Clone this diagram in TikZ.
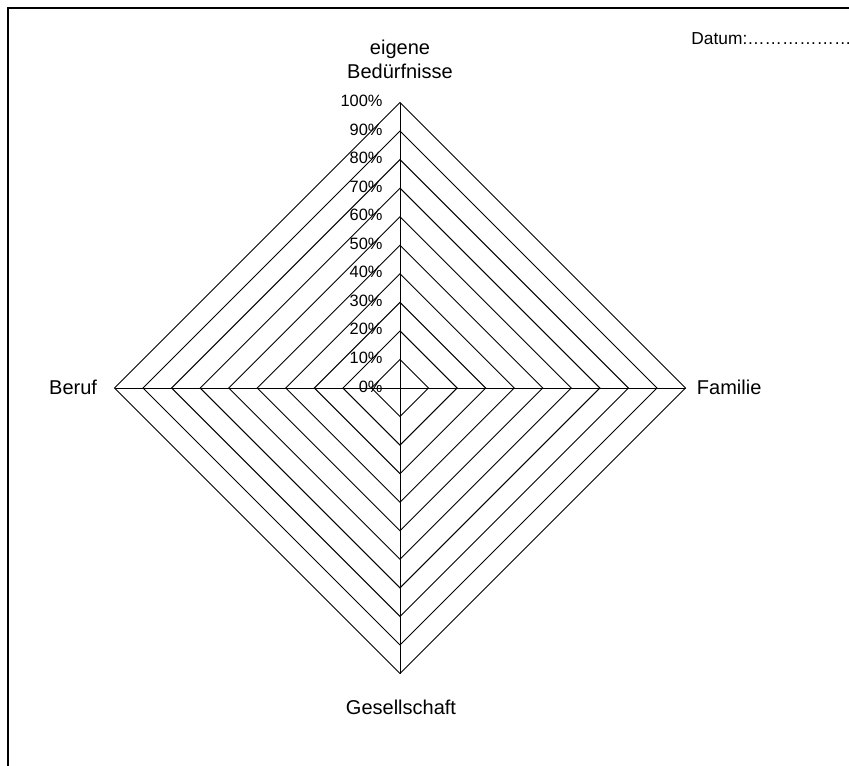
\documentclass[tikz,border=0pt]{standalone}
\usepackage{fontspec}
\setmainfont{Liberation Sans}
\usetikzlibrary{calc}
\begin{document}
\begin{tikzpicture}[x=0.75pt,y=-0.75pt,line width=0.7pt,
  lbl/.style={font=\fontsize{15}{18}\selectfont,inner sep=0pt,anchor=base},
  pct/.style={font=\fontsize{12.3}{14}\selectfont,inner sep=0pt,anchor=base east},
  ring/.style={draw=black,line width=0.7pt}]
\useasboundingbox (0,0) rectangle (849,765);
% frame (only left and top edges visible)
\draw[line width=1.2pt] (8,780) -- (8,8) -- (870,8);
% centre and axis ends
\coordinate (C) at (400,388);
\coordinate (T) at (400,102.5);
\coordinate (B) at (400,673.5);
\coordinate (L) at (114.5,388);
\coordinate (R) at (685.5,388);
% rings
\foreach \i in {1,...,10}{
  \draw[ring] ($(C)+(0,-28.55*\i)$) -- ($(C)+(28.55*\i,0)$) -- ($(C)+(0,28.55*\i)$) -- ($(C)+(-28.55*\i,0)$) -- cycle;
}
% axes
\draw[ring] (T) -- (B);
\draw[ring] (L) -- (R);
% percentage labels
\foreach \i in {0,...,10}{
  \pgfmathtruncatemacro{\p}{10*\i}
  \node[pct] (p\i) at (383,392-28.55*\i) {\p\%};
}
% axis labels
\node[lbl] (top1) at (400,54) {eigene};
\node[lbl] (top2) at (400,78) {Bedürfnisse};
\node[lbl,anchor=base east] (beruf) at (97.5,394) {Beruf};
\node[lbl,anchor=base west] (familie) at (696.5,394) {Familie};
\node[lbl] (gesell) at (401,714) {Gesellschaft};
\node[font=\fontsize{13}{15}\selectfont,inner sep=0pt,anchor=base west] (datum) at (691,44) {Datum:………………};
\end{tikzpicture}
\end{document}
